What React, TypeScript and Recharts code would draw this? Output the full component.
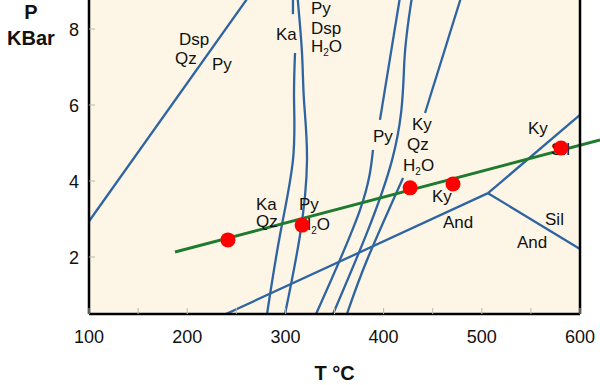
import {
  CartesianGrid,
  ComposedChart,
  Label,
  Line,
  ReferenceLine,
  Scatter,
  XAxis,
  YAxis,
} from "recharts";

const FONT = "'Liberation Sans', Arial, Helvetica, sans-serif";
const BLUE = "#2f64a2";
const GREEN = "#1d7a2e";

// reaction curves, t = °C, p = kbar
const dspPy = [
  { t: 100, p: 2.94 },
  { t: 266.7, p: 9 },
];
const kaTop = [
  { t: 307.7, p: 9 },
  { t: 307.7, p: 8.39 },
];
const kaLow = [
  { t: 309.8, p: 7.37 },
  { t: 308.8, p: 6.13 },
  { t: 307.7, p: 4.55 },
  { t: 294.5, p: 2.58 },
  { t: 281.3, p: 0.5 },
];
const pyDsp = [
  { t: 311.8, p: 9 },
  { t: 316.9, p: 7.37 },
  { t: 318.9, p: 6.13 },
  { t: 322, p: 4.55 },
  { t: 314.9, p: 2.58 },
  { t: 299.6, p: 0.5 },
];
const pyTop = [
  { t: 417.7, p: 9 },
  { t: 396.3, p: 5.61 },
];
const pyLow = [
  { t: 389.2, p: 4.82 },
  { t: 376, p: 3.24 },
  { t: 331.2, p: 0.5 },
];
const midCurve = [
  { t: 429.9, p: 9 },
  { t: 421.2, p: 7.18 },
  { t: 408.6, p: 4.55 },
  { t: 348.5, p: 0.5 },
];
const kyTop = [
  { t: 480.9, p: 9 },
  { t: 442.2, p: 5.79 },
];
const kyLow = [
  { t: 419.8, p: 4.08 },
  { t: 383.1, p: 1.92 },
  { t: 362.7, p: 0.5 },
];
const kyAnd = [
  { t: 239.5, p: 0.5 },
  { t: 506.3, p: 3.68 },
];
const kySil = [
  { t: 506.3, p: 3.68 },
  { t: 600, p: 5.74 },
];
const andSil = [
  { t: 506.3, p: 3.68 },
  { t: 600, p: 2.21 },
];

const geotherm = [
  { t: 187.6, p: 2.13 },
  { t: 620.4, p: 5.08 },
];

const samples = [
  { t: 241.5, p: 2.45 },
  { t: 317, p: 2.84 },
  { t: 427, p: 3.82 },
  { t: 470.7, p: 3.92 },
  { t: 580.7, p: 4.87 },
];

// field labels: left edge + baseline
const fieldLabels = [
  { t: 191.6, p: 7.58, text: "Dsp" },
  { t: 187.6, p: 7.08, text: "Qz" },
  { t: 225.3, p: 6.92, text: "Py" },
  { t: 290.4, p: 7.71, text: "Ka" },
  { t: 326.1, p: 8.39, text: "Py" },
  { t: 326.1, p: 7.87, text: "Dsp" },
  { t: 326.1, p: 7.39, text: "H2O" },
  { t: 270.1, p: 3.25, text: "Ka" },
  { t: 270.1, p: 2.79, text: "Qz" },
  { t: 313.8, p: 3.25, text: "Py" },
  { t: 313.8, p: 2.71, text: "H2O" },
  { t: 389.2, p: 5.03, text: "Py" },
  { t: 428.9, p: 5.34, text: "Ky" },
  { t: 423.8, p: 4.82, text: "Qz" },
  { t: 419.8, p: 4.26, text: "H2O" },
  { t: 449.3, p: 3.45, text: "Ky" },
  { t: 460.5, p: 2.76, text: "And" },
  { t: 547.0, p: 5.24, text: "Ky" },
  { t: 570.5, p: 4.68, text: "Sil" },
  { t: 564.4, p: 2.84, text: "Sil" },
  { t: 535.8, p: 2.24, text: "And" },
];

const xTicks = [100, 150, 200, 250, 300, 350, 400, 450, 500, 550, 600];
const yTicks = [2, 4, 6, 8];

function XTick({ x, y, payload }: any) {
  const v = payload.value;
  return (
    <g>
      <line x1={x} y1={y} x2={x} y2={y - 6} stroke="#b8b8b8" />
      {v % 100 === 0 && (
        <text x={x} y={y + 29} textAnchor="middle" fontSize={18} fill="#111" fontFamily={FONT}>
          {v}
        </text>
      )}
    </g>
  );
}

function YTickLeft({ x, y, payload }: any) {
  return (
    <g>
      <line x1={x} y1={y} x2={x + 6} y2={y} stroke="#b8b8b8" />
      <text x={x - 10} y={y + 6.5} textAnchor="end" fontSize={18} fill="#111" fontFamily={FONT}>
        {payload.value}
      </text>
    </g>
  );
}

function YTickRight({ x, y }: any) {
  return <line x1={x} y1={y} x2={x - 6} y2={y} stroke="#b8b8b8" />;
}

function FieldLabel({ cx, cy, payload }: any) {
  const common = { x: cx, y: cy, fontSize: 17, fill: "#111", fontFamily: FONT };
  if (payload.text === "H2O") {
    return (
      <text {...common}>
        H
        <tspan fontSize={10} dy={4}>
          2
        </tspan>
        <tspan dy={-4}>O</tspan>
      </text>
    );
  }
  return <text {...common}>{payload.text}</text>;
}

function SampleDot({ cx, cy }: any) {
  return <circle cx={cx} cy={cy} r={7.5} fill="#ff0000" />;
}

const curves: { data: { t: number; p: number }[]; type: "linear" | "natural" }[] = [
  { data: dspPy, type: "linear" },
  { data: kaTop, type: "linear" },
  { data: kaLow, type: "natural" },
  { data: pyDsp, type: "natural" },
  { data: pyTop, type: "linear" },
  { data: pyLow, type: "natural" },
  { data: midCurve, type: "natural" },
  { data: kyTop, type: "linear" },
  { data: kyLow, type: "natural" },
  { data: kyAnd, type: "linear" },
  { data: kySil, type: "linear" },
  { data: andSil, type: "linear" },
];

export default function App() {
  return (
    <div style={{ position: "absolute", left: 0, top: -9 }}>
      <ComposedChart width={600} height={394} margin={{ top: 0, right: 0, bottom: 0, left: 0 }}>
        <CartesianGrid fill="#fdf6e6" horizontal={false} vertical={false} />
        <XAxis
          dataKey="t"
          type="number"
          domain={[100, 600]}
          ticks={xTicks}
          interval={0}
          height={71}
          tickSize={0}
          tickMargin={0}
          tickLine={false}
          tick={<XTick />}
          axisLine={{ stroke: "#000", strokeWidth: 2.5 }}
        >
          <Label
            content={({ viewBox }: any) => (
              <text
                x={viewBox.x + viewBox.width / 2}
                y={viewBox.y + 66}
                textAnchor="middle"
                fontSize={20}
                fontWeight="bold"
                fill="#111"
                fontFamily={FONT}
              >
                T °C
              </text>
            )}
          />
        </XAxis>
        <YAxis
          dataKey="p"
          type="number"
          domain={[0.5, 9]}
          ticks={yTicks}
          interval={0}
          width={89}
          tickSize={0}
          tickMargin={0}
          tickLine={false}
          tick={<YTickLeft />}
          axisLine={{ stroke: "#000", strokeWidth: 2.5 }}
        >
          <Label
            content={() => (
              <g fontFamily={FONT} fontSize={20} fontWeight="bold" fill="#111" textAnchor="middle">
                <text x={31} y={28}>
                  P
                </text>
                <text x={31} y={54}>
                  KBar
                </text>
              </g>
            )}
          />
        </YAxis>
        <YAxis
          yAxisId="r"
          orientation="right"
          type="number"
          domain={[0.5, 9]}
          ticks={yTicks}
          interval={0}
          width={20}
          tickSize={0}
          tickMargin={0}
          tickLine={false}
          tick={<YTickRight />}
          axisLine={{ stroke: "#000", strokeWidth: 2.5 }}
        />
        {curves.map((c, i) => (
          <Line
            key={i}
            data={c.data}
            dataKey="p"
            type={c.type}
            stroke={BLUE}
            strokeWidth={2.3}
            dot={false}
            activeDot={false}
            isAnimationActive={false}
          />
        ))}
        <Scatter data={fieldLabels} dataKey="p" shape={<FieldLabel />} isAnimationActive={false} />
        <ReferenceLine
          segment={[
            { x: geotherm[0].t, y: geotherm[0].p },
            { x: geotherm[1].t, y: geotherm[1].p },
          ]}
          stroke={GREEN}
          strokeWidth={3}
          ifOverflow="visible"
        />
        <Scatter data={samples} dataKey="p" shape={<SampleDot />} isAnimationActive={false} />
      </ComposedChart>
    </div>
  );
}
